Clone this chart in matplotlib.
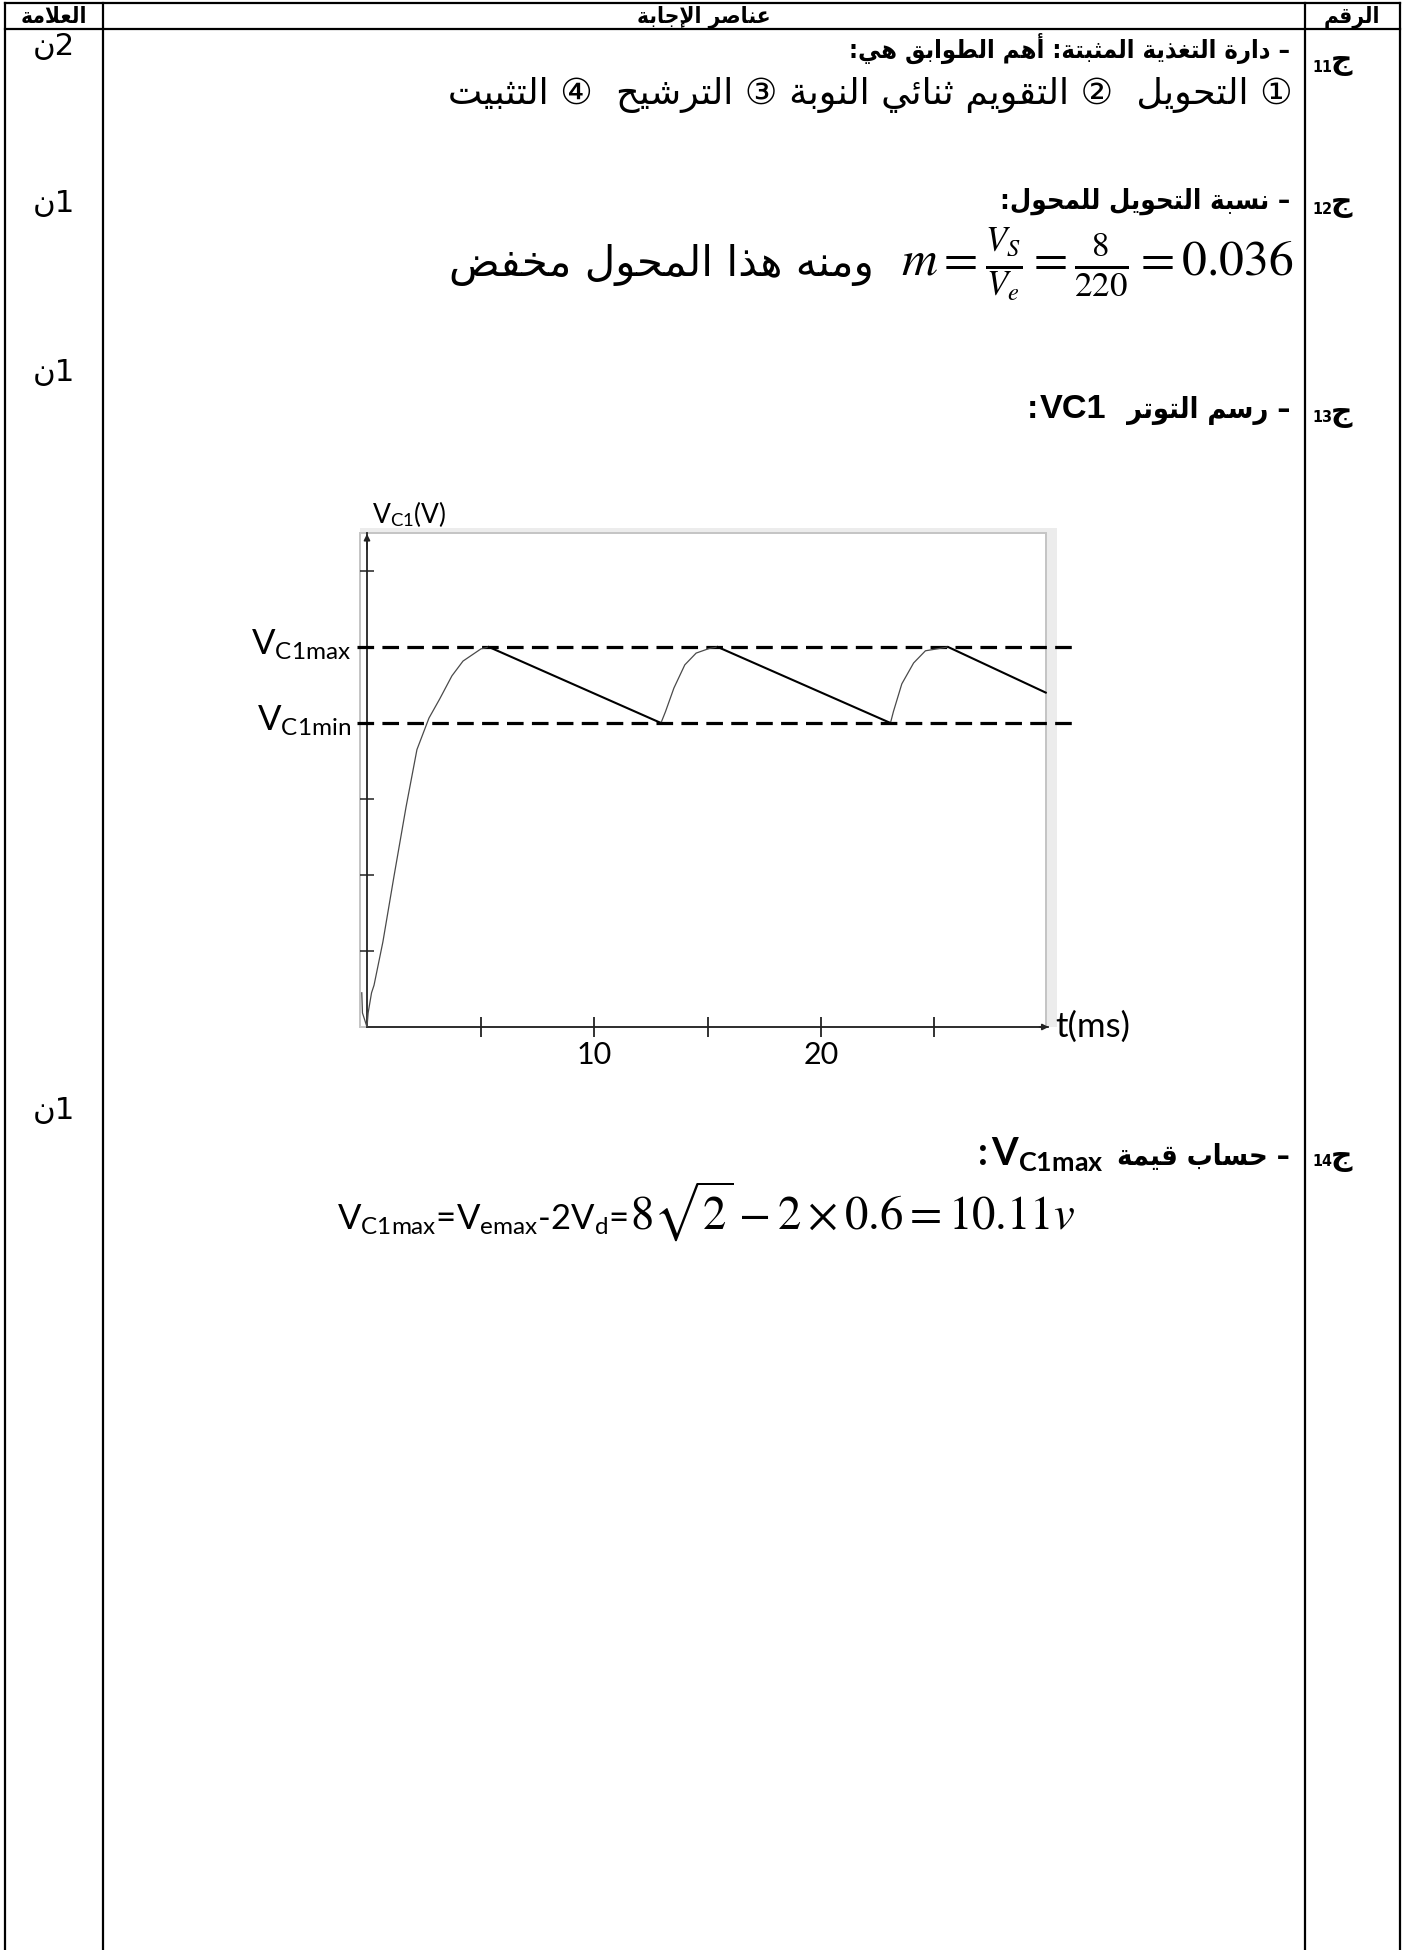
import matplotlib
matplotlib.use('Agg')
import matplotlib.pyplot as plt
from matplotlib.lines import Line2D
from matplotlib.patches import Rectangle

plt.rcParams['mathtext.fontset'] = 'custom'
plt.rcParams['mathtext.rm'] = 'Lato'
plt.rcParams['mathtext.it'] = 'Lato:italic'
plt.rcParams['mathtext.bf'] = 'Lato:bold'

W, H, DPI = 1408, 1950, 100

# ------------------------------------------------------------------ data
x_ticks = [5, 10, 15, 20, 25]
x_tick_labels = ['', '10', '', '20', '']
y_ticks = [2, 4, 6, 8, 10, 12]
T_AXIS_END = 30.0
V_AXIS_END = 13.0
V_C1MAX = 10.0
V_C1MIN = 8.0

# charging parts (thin grey curves)
charge1_t = [-0.23, -0.20, 0.0, 0.05, 0.20, 0.31, 0.70, 1.19, 1.72, 2.20, 2.73, 3.20, 3.74, 4.23, 5.02, 5.37]
charge1_v = [0.90, 0.37, 0.0, 0.37, 0.90, 1.10, 2.24, 3.97, 5.79, 7.30, 8.13, 8.63, 9.24, 9.63, 9.95, 10.0]
charge2_t = [12.95, 13.15, 13.52, 14.00, 14.50, 15.07, 15.45]
charge2_v = [8.0, 8.30, 8.92, 9.53, 9.84, 9.96, 10.0]
charge3_t = [23.06, 23.19, 23.56, 24.08, 24.60, 25.20, 25.60]
charge3_v = [8.0, 8.30, 9.03, 9.58, 9.90, 9.96, 10.0]
# discharging parts (black straight lines)
discharge_t = [[5.37, 12.95], [15.45, 23.06], [25.60, 29.90]]
discharge_v = [[10.0, 8.0], [10.0, 8.0], [10.0, 8.8]]

# texts
header_labels = ['العلامة', 'عناصر الإجابة', 'الرقم']
q_numbers = ['11', '12', '13', '14']
marks = ['2', '1', '1', '1']
line_11a = '– دارة التغذية المثبتة: أهم الطوابق هي:'
line_11b = '① التحويل  ② التقويم ثنائي النوبة ③ الترشيح  ④ التثبيت'
line_12a = '– نسبة التحويل للمحول:'
line_12b_ar = 'ومنه هذا المحول مخفض'
line_12b_math = r'$m=\frac{V_S}{V_e}=\frac{8}{220}=0.036$'
line_13_ar = '– رسم التوتر'
line_13_lat = 'VC1'
line_14_ar = '– حساب قيمة'
line_14_lat = r'$\mathbf{V}_{\mathbf{C1max}}$'
line_14b_a = r'V$_{\mathrm{C1max}}$=V$_{\mathrm{emax}}$-2V$_{\mathrm{d}}$='
line_14b_b = r'$8\sqrt{2}-2\times0.6=10.11v$'

# ------------------------------------------------------- arabic shaping
AR_TABLE = {
    0x0621: (0xFE80, 'U'), 0x0622: (0xFE81, 'R'), 0x0623: (0xFE83, 'R'),
    0x0624: (0xFE85, 'R'), 0x0625: (0xFE87, 'R'), 0x0626: (0xFE89, 'D'),
    0x0627: (0xFE8D, 'R'), 0x0628: (0xFE8F, 'D'), 0x0629: (0xFE93, 'R'),
    0x062A: (0xFE95, 'D'), 0x062B: (0xFE99, 'D'), 0x062C: (0xFE9D, 'D'),
    0x062D: (0xFEA1, 'D'), 0x062E: (0xFEA5, 'D'), 0x062F: (0xFEA9, 'R'),
    0x0630: (0xFEAB, 'R'), 0x0631: (0xFEAD, 'R'), 0x0632: (0xFEAF, 'R'),
    0x0633: (0xFEB1, 'D'), 0x0634: (0xFEB5, 'D'), 0x0635: (0xFEB9, 'D'),
    0x0636: (0xFEBD, 'D'), 0x0637: (0xFEC1, 'D'), 0x0638: (0xFEC5, 'D'),
    0x0639: (0xFEC9, 'D'), 0x063A: (0xFECD, 'D'), 0x0641: (0xFED1, 'D'),
    0x0642: (0xFED5, 'D'), 0x0643: (0xFED9, 'D'), 0x0644: (0xFEDD, 'D'),
    0x0645: (0xFEE1, 'D'), 0x0646: (0xFEE5, 'D'), 0x0647: (0xFEE9, 'D'),
    0x0648: (0xFEED, 'R'), 0x0649: (0xFEEF, 'R'), 0x064A: (0xFEF1, 'D'),
}
LAM_ALEF = {0x0622: 0xFEF5, 0x0623: 0xFEF7, 0x0625: 0xFEF9, 0x0627: 0xFEFB}


def shape_ar(s):
    items = []
    i = 0
    while i < len(s):
        c = ord(s[i])
        if c == 0x0644 and i + 1 < len(s) and ord(s[i + 1]) in LAM_ALEF:
            items.append((LAM_ALEF[ord(s[i + 1])], 'R'))
            i += 2
            continue
        items.append(AR_TABLE[c] if c in AR_TABLE else (s[i], None))
        i += 1
    out = []
    for k, (base, jt) in enumerate(items):
        if jt is None:
            out.append(base)
            continue
        if jt == 'U':
            out.append(chr(base))
            continue
        prev_jt = items[k - 1][1] if k > 0 else None
        next_jt = items[k + 1][1] if k + 1 < len(items) else None
        jp = prev_jt == 'D'
        jn = jt == 'D' and next_jt in ('R', 'D')
        off = 3 if (jp and jn) else 1 if jp else 2 if jn else 0
        out.append(chr(base + off))
    return ''.join(reversed(out))


# ------------------------------------------------------------- figure
fig = plt.figure(figsize=(W / DPI, H / DPI), dpi=DPI)
fig.patch.set_facecolor('white')
R = fig.canvas.get_renderer()

AR_FAM = ['DejaVu Sans', 'Noto Sans CJK SC']
AR_B = dict(fontfamily=AR_FAM, fontweight='bold', fontstretch='condensed', color='black')
AR_R = dict(fontfamily=AR_FAM, fontweight='normal', color='black')
LIB_B = dict(fontfamily='Liberation Sans', fontweight='bold', color='black')
LATO_B = dict(fontfamily='Lato', fontweight='bold', color='black')


def P(x, y):
    return x / W, 1 - y / H


def put(x, y, s, **kw):
    return fig.text(*P(x, y), s, **kw)


def wid(t):
    return t.get_window_extent(R).width


def fit(t, target):
    for _ in range(3):
        t.set_fontsize(t.get_fontsize() * target / wid(t))
    return t.get_fontsize()


def layout_rtl(runs, x_right, y_base):
    """runs listed from right to left: (text, props, fontsize, gap to next run)."""
    x = x_right
    objs = []
    for s, kw, fs, g in runs:
        t = put(x, y_base, s, ha='right', va='baseline', fontsize=fs, **kw)
        x -= wid(t) + g
        objs.append(t)
    return objs


# table grid
TX = [5, 103, 1305, 1400]
TY_TOP, TY_HEAD = 3, 29
for x in TX:
    fig.add_artist(Line2D([x / W, x / W], [1 - TY_TOP / H, 0], color='black', lw=1.6,
                          transform=fig.transFigure))
for y in (TY_TOP, TY_HEAD):
    fig.add_artist(Line2D([TX[0] / W, TX[-1] / W], [1 - y / H, 1 - y / H], color='black',
                          lw=1.6, transform=fig.transFigure))

# header
h_left = put(54, 17, shape_ar(header_labels[0]), ha='center', va='center', fontsize=14, **AR_B)
S_head = fit(h_left, 66)
put(704, 17, shape_ar(header_labels[1]), ha='center', va='center', fontsize=S_head, **AR_B)
put(1352, 17, shape_ar(header_labels[2]), ha='center', va='center', fontsize=S_head, **AR_B)

# rows
RIGHT = 1293
RIGHT_B = 1290
r11b = put(RIGHT, 95, shape_ar(line_11b), ha='right', va='center', fontsize=20, **AR_R)
S_r = fit(r11b, 846)
r11a = put(RIGHT_B, 48, shape_ar(line_11a), ha='right', va='center', fontsize=20, **AR_B)
fit(r11a, 440)

r12a = put(RIGHT_B, 201, shape_ar(line_12a), ha='right', va='center', fontsize=20, **AR_B)
S_b = fit(r12a, 290)
f1 = put(RIGHT, 265, line_12b_math, ha='right', va='center', math_fontfamily='stix', fontsize=22)
fit(f1, 393)
f1a = put(874, 276, shape_ar(line_12b_ar), ha='right', va='baseline', fontsize=S_r, **AR_R)
fit(f1a, 425)

# row 13 heading
layout_rtl([(shape_ar(line_13_ar), AR_B, S_b * 1.05, 20),
            (line_13_lat, LIB_B, S_b * 1.25, 2),
            (':', LIB_B, S_b * 1.25, 0)], RIGHT_B, 418)

# row 14 heading
layout_rtl([(shape_ar(line_14_ar), AR_B, S_b * 1.05, 14),
            (line_14_lat, dict(math_fontfamily='custom', color='black'), S_b * 1.4, 3),
            (':', LATO_B, S_b * 1.4, 0)], RIGHT_B, 1165)

# row 14 formula
fa = put(337, 1230, line_14b_a, ha='left', va='baseline', fontfamily='Lato',
         math_fontfamily='custom', fontsize=22, color='black')
fit(fa, 291)
fb = put(337 + wid(fa) + 2, 1230, line_14b_b, ha='left', va='baseline',
         math_fontfamily='stix', fontsize=22, color='black')
fit(fb, 445)

# question numbers and marks
q_y = [62, 204, 413, 1157]
m_y = [47, 204, 373, 1110]
for qn, yq in zip(q_numbers, q_y):
    tj = put(1352, yq, shape_ar('ج'), ha='right', va='center', fontsize=S_r * 0.82,
             fontfamily=AR_FAM, fontweight='bold', color='black')
    put(1352 - wid(tj) + 2, yq + 5, qn, ha='right', va='center', fontfamily='DejaVu Sans',
        fontweight='bold', fontstretch='condensed', fontsize=S_r * 0.44, color='black')
for mk, ym in zip(marks, m_y):
    put(54, ym, shape_ar('ن') + mk, ha='center', va='center', fontsize=S_r * 0.85, **AR_R)

# ------------------------------------------------------------- chart
PX_T0, PX_MS = 367.0, 22.7     # pixel of t=0, pixels per ms
PY_V0, PX_V = 1027.0, 38.0     # pixel of V=0, pixels per volt
t_lo, t_hi = -2.0, 33.0
v_lo, v_hi = -1.5, 14.5
left = PX_T0 + t_lo * PX_MS
right = PX_T0 + t_hi * PX_MS
bottom = PY_V0 - v_lo * PX_V
top = PY_V0 - v_hi * PX_V
ax = fig.add_axes([left / W, 1 - bottom / H, (right - left) / W, (bottom - top) / H])
ax.set_xlim(t_lo, t_hi)
ax.set_ylim(v_lo, v_hi)
ax.patch.set_visible(False)
for s in ('top', 'right'):
    ax.spines[s].set_visible(False)
for s in ('left', 'bottom'):
    ax.spines[s].set_position(('data', 0))
    ax.spines[s].set_linewidth(1.3)
    ax.spines[s].set_color('#222222')
ax.spines['left'].set_bounds(0, V_AXIS_END)
ax.spines['bottom'].set_bounds(0, T_AXIS_END)
ax.set_xticks(x_ticks)
ax.set_xticklabels(x_tick_labels, fontfamily='Lato', fontsize=22)
ax.set_yticks(y_ticks)
ax.set_yticklabels([])
ax.tick_params(axis='x', direction='inout', length=14, width=1.3, color='#222222', pad=3)
ax.tick_params(axis='y', direction='inout', length=10, width=1.1, color='#222222')

# light frame around the plot zone
T_BOX = T_AXIS_END - 0.1
ax.add_patch(Rectangle((T_BOX, 0), 0.5, V_AXIS_END + 0.12, fc='#ececec', ec='none', zorder=0))
ax.add_patch(Rectangle((-0.3, V_AXIS_END), T_BOX + 0.8, 0.12, fc='#ececec', ec='none', zorder=0))
ax.add_patch(Rectangle((-0.3, 0), T_BOX + 0.3, V_AXIS_END, fill=False, ec='#c4c4c4', lw=1.4,
                       zorder=0.5))

# axis arrows
ax.annotate('', xy=(T_AXIS_END + 0.15, 0), xytext=(T_AXIS_END - 0.5, 0),
            arrowprops=dict(arrowstyle='-|>', color='#222222', lw=1.2, mutation_scale=9))
ax.annotate('', xy=(0, V_AXIS_END + 0.05), xytext=(0, V_AXIS_END - 0.5),
            arrowprops=dict(arrowstyle='-|>', color='#222222', lw=1.2, mutation_scale=9))

# reference levels
for lvl in (V_C1MAX, V_C1MIN):
    ax.hlines(lvl, -0.45, T_AXIS_END + 1.2, colors='black', lw=2.3, linestyles=(0, (5.2, 2.6)),
              zorder=3)

# curve
for tt, vv in ((charge1_t, charge1_v), (charge2_t, charge2_v), (charge3_t, charge3_v)):
    ax.plot(tt, vv, color='#4a4a4a', lw=0.9, zorder=4)
for tt, vv in zip(discharge_t, discharge_v):
    ax.plot(tt, vv, color='black', lw=1.5, zorder=4)

# labels
ax.text(-0.7, V_C1MAX - 0.2, r'V$_{\mathrm{C1max}}$', ha='right', va='baseline',
        fontfamily='Lato', fontsize=25, math_fontfamily='custom')
ax.text(-0.7, V_C1MIN - 0.2, r'V$_{\mathrm{C1min}}$', ha='right', va='baseline',
        fontfamily='Lato', fontsize=25, math_fontfamily='custom')
ax.text(0.2, 13.26, r'V$_{\mathrm{C1}}$(V)', ha='left', va='baseline',
        fontfamily='Lato', fontsize=19, math_fontfamily='custom')
ax.text(T_AXIS_END + 0.3, 0, 't(ms)', ha='left', va='center', fontfamily='Lato', fontsize=25)

fig.savefig('out.png', dpi=DPI, facecolor='white')
